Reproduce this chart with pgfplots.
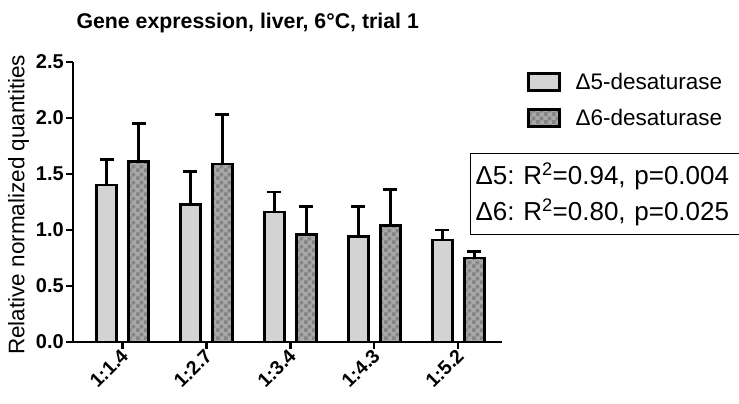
\documentclass[border=0pt]{standalone}
\usepackage{fontspec}
\setmainfont{Liberation Sans}
\usepackage{pgfplots}
\pgfplotsset{compat=1.18}
\usetikzlibrary{patterns}
\definecolor{lightbar}{HTML}{D3D3D3}
\definecolor{chkA}{HTML}{A8A8A8}
\definecolor{chkB}{HTML}{858585}
\pgfdeclarepatternformonly{bigchecker}{\pgfpointorigin}{\pgfqpoint{8pt}{8pt}}{\pgfqpoint{8pt}{8pt}}{%
  \pgfpathrectangle{\pgfpointorigin}{\pgfqpoint{4.05pt}{4.05pt}}%
  \pgfpathrectangle{\pgfqpoint{4pt}{4pt}}{\pgfqpoint{4.05pt}{4.05pt}}%
  \pgfusepath{fill}}
\frenchspacing

\begin{document}
\begin{tikzpicture}
\begin{axis}[
  scale only axis, width=429pt, height=280pt,
  ybar=12pt, bar width=20pt,
  xmin=-0.59, xmax=4.52, ymin=0, ymax=2.5,
  xtick={0,1,2,3,4},
  xticklabels={1:1.4,1:2.7,1:3.4,1:4.3,1:5.2},
  ytick={0,0.5,...,2.5},
  /pgf/number format/.cd, fixed, fixed zerofill, precision=1, assume math mode=true, /pgfplots/.cd,
  axis x line*=bottom, axis y line*=left,
  axis line style={line width=2.6pt, black},
  tick align=outside, major tick length=7pt,
  tick style={line width=2.2pt, black},
  y tick label style={font=\bfseries\fontsize{20}{20}\selectfont, inner sep=2pt},
  x tick label style={font=\bfseries\fontsize{19.5}{19.5}\selectfont, rotate=45, anchor=east,
    inner sep=1pt, yshift=-4pt},
  ylabel={Relative normalized quantities},
  ylabel style={font=\fontsize{22.5}{22.5}\selectfont, at={(axis description cs:-0.127,0.49)}, anchor=center},
  legend style={at={(axis description cs:1.058,0.965)}, anchor=north west, draw=none, fill=none,
    font=\fontsize{22.5}{22.5}\selectfont, row sep=16pt, column sep=14pt, inner sep=0pt,
    nodes={inner sep=1pt}},
  legend cell align=left,
  legend image code/.code={\draw[#1, line width=2.6pt] (0pt,-8.5pt) rectangle (31pt,8.5pt);},
  clip=false,
]
\addplot[fill=lightbar, draw=black, line width=2.6pt,
  error bars/.cd, y dir=plus, y explicit,
  error bar style={line width=2.6pt, black},
  error mark options={rotate=90, mark size=7pt, line width=2.6pt, black}]
  coordinates {(0,1.40) +- (0,0.23) (1,1.23) +- (0,0.29) (2,1.16) +- (0,0.18) (3,0.94) +- (0,0.27) (4,0.91) +- (0,0.09)};
\addlegendentry{Δ5-desaturase}
\addplot[fill=chkA, draw=black, line width=2.6pt,
  postaction={pattern=bigchecker, pattern color=chkB},
  error bars/.cd, y dir=plus, y explicit,
  error bar style={line width=2.6pt, black},
  error mark options={rotate=90, mark size=7pt, line width=2.6pt, black}]
  coordinates {(0,1.61) +- (0,0.34) (1,1.59) +- (0,0.44) (2,0.96) +- (0,0.25) (3,1.04) +- (0,0.32) (4,0.75) +- (0,0.06)};
\addlegendentry{Δ6-desaturase}
\end{axis}
\node[anchor=base west, font=\bfseries\fontsize{21.3}{21.3}\selectfont] at (0pt,313.7pt)
  {Gene expression, liver, 6°C, trial 1};
\node[draw, line width=1.2pt, anchor=north west, minimum height=81pt, minimum width=320pt,
  inner sep=3pt, align=left, font=\fontsize{26}{36}\selectfont, text width=310pt] at (397pt,189pt)
  {Δ5: R\textsuperscript{2}=0.94, p=0.004\\Δ6: R\textsuperscript{2}=0.80, p=0.025};
\pgfresetboundingbox
\useasboundingbox (-73pt,-62pt) rectangle (666pt,342pt);
\end{tikzpicture}
\end{document}
